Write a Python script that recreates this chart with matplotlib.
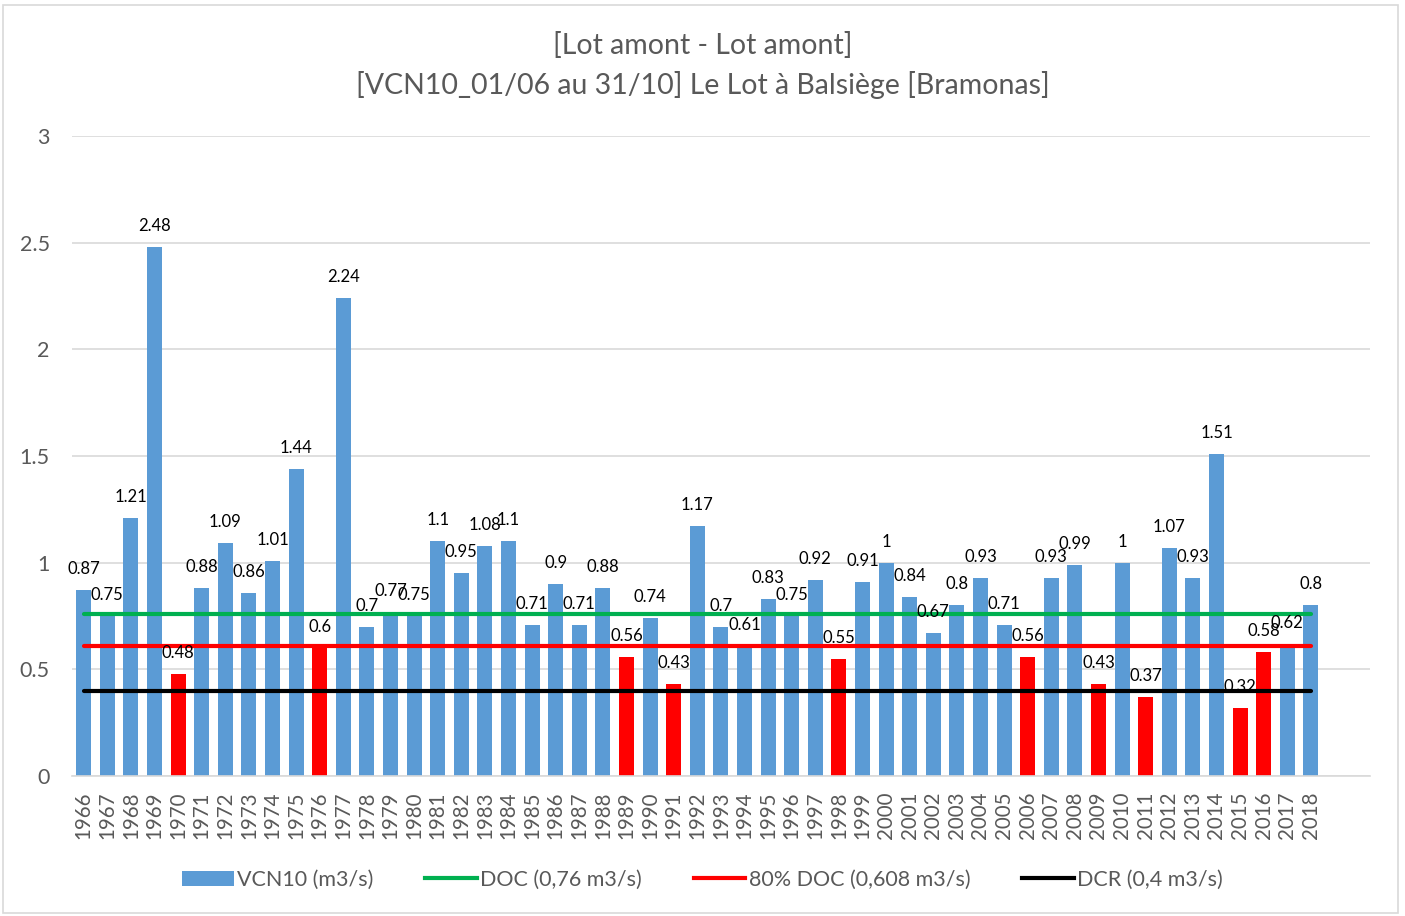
import matplotlib.pyplot as plt
from matplotlib.lines import Line2D
from matplotlib.patches import Patch, Rectangle

plt.rcParams['font.family'] = ['Lato', 'DejaVu Sans']

years = [str(y) for y in range(1966, 2019)]
vcn10 = [0.87, 0.75, 1.21, 2.48, 0.48, 0.88, 1.09, 0.86, 1.01, 1.44,
         0.6, 2.24, 0.7, 0.77, 0.75, 1.1, 0.95, 1.08, 1.1, 0.71,
         0.9, 0.71, 0.88, 0.56, 0.74, 0.43, 1.17, 0.7, 0.61, 0.83,
         0.75, 0.92, 0.55, 0.91, 1, 0.84, 0.67, 0.8, 0.93, 0.71,
         0.56, 0.93, 0.99, 0.43, 1, 0.37, 1.07, 0.93, 1.51, 0.32,
         0.58, 0.62, 0.8]
doc = 0.76
doc80 = 0.608
dcr = 0.4

blue = '#5B9BD5'
red = '#FF0000'
green = '#00B050'
grey = '#595959'

x = list(range(len(years)))
bar_colors = [red if v < doc80 else blue for v in vcn10]

fig = plt.figure(figsize=(14.05, 9.16), dpi=100)
ax = fig.add_axes([0.0512, 0.1528, 0.9238, 0.6987])

ax.bar(x, vcn10, width=0.64, color=bar_colors, zorder=2)
ax.plot(x, [doc] * len(x), color=green, lw=3, zorder=3, solid_capstyle='round')
ax.plot(x, [doc80] * len(x), color=red, lw=3, zorder=3, solid_capstyle='round')
ax.plot(x, [dcr] * len(x), color='black', lw=3, zorder=3, solid_capstyle='round')

for xi, v in zip(x, vcn10):
    ax.annotate(f'{v:g}', (xi, v), xytext=(0, 13), textcoords='offset pixels',
                ha='center', va='bottom', fontsize=12, color='black', zorder=4)

ax.set_xlim(-0.5, 54.5)
ax.set_ylim(0, 3)
ax.set_yticks([0, 0.5, 1, 1.5, 2, 2.5, 3])
ax.set_yticklabels(['0', '0.5', '1', '1.5', '2', '2.5', '3'])
ax.set_xticks(x)
ax.set_xticklabels(years, rotation=90)
ax.tick_params(axis='y', length=0, pad=16, labelsize=15.5, labelcolor=grey)
ax.tick_params(axis='x', length=0, pad=11, labelsize=14.8, labelcolor=grey)
ax.grid(axis='y', color='#D9D9D9', lw=1.2, zorder=0)
for s in ['top', 'right', 'left']:
    ax.spines[s].set_visible(False)
ax.spines['bottom'].set_color('#D9D9D9')
ax.spines['bottom'].set_linewidth(1.2)

fig.text(0.5, 1 - 45 / 916, '[Lot amont - Lot amont]', ha='center', va='center',
         fontsize=20.5, color=grey)
fig.text(0.5, 1 - 85 / 916, '[VCN10_01/06 au 31/10] Le Lot à Balsiège [Bramonas]',
         ha='center', va='center', fontsize=20.5, color=grey)

handles = [
    Patch(facecolor=blue, label='VCN10 (m3/s)'),
    Line2D([0], [0], color=green, lw=3, label='DOC (0,76 m3/s)'),
    Line2D([0], [0], color=red, lw=3, label='80% DOC (0,608 m3/s)'),
    Line2D([0], [0], color='black', lw=3, label='DCR (0,4 m3/s)'),
]
leg = fig.legend(handles=handles, loc='center', bbox_to_anchor=(0.5, 1 - 880 / 916),
                 ncol=4, frameon=False, fontsize=15.5, handlelength=2.4,
                 handletextpad=0.15, columnspacing=2.4)
for t in leg.get_texts():
    t.set_color(grey)

fig.patches.append(Rectangle((3 / 1405, 3 / 916), 1395 / 1405, 908 / 916,
                             transform=fig.transFigure, fill=False,
                             edgecolor='#D9D9D9', lw=1.2))

fig.savefig('out.png', dpi=100)
